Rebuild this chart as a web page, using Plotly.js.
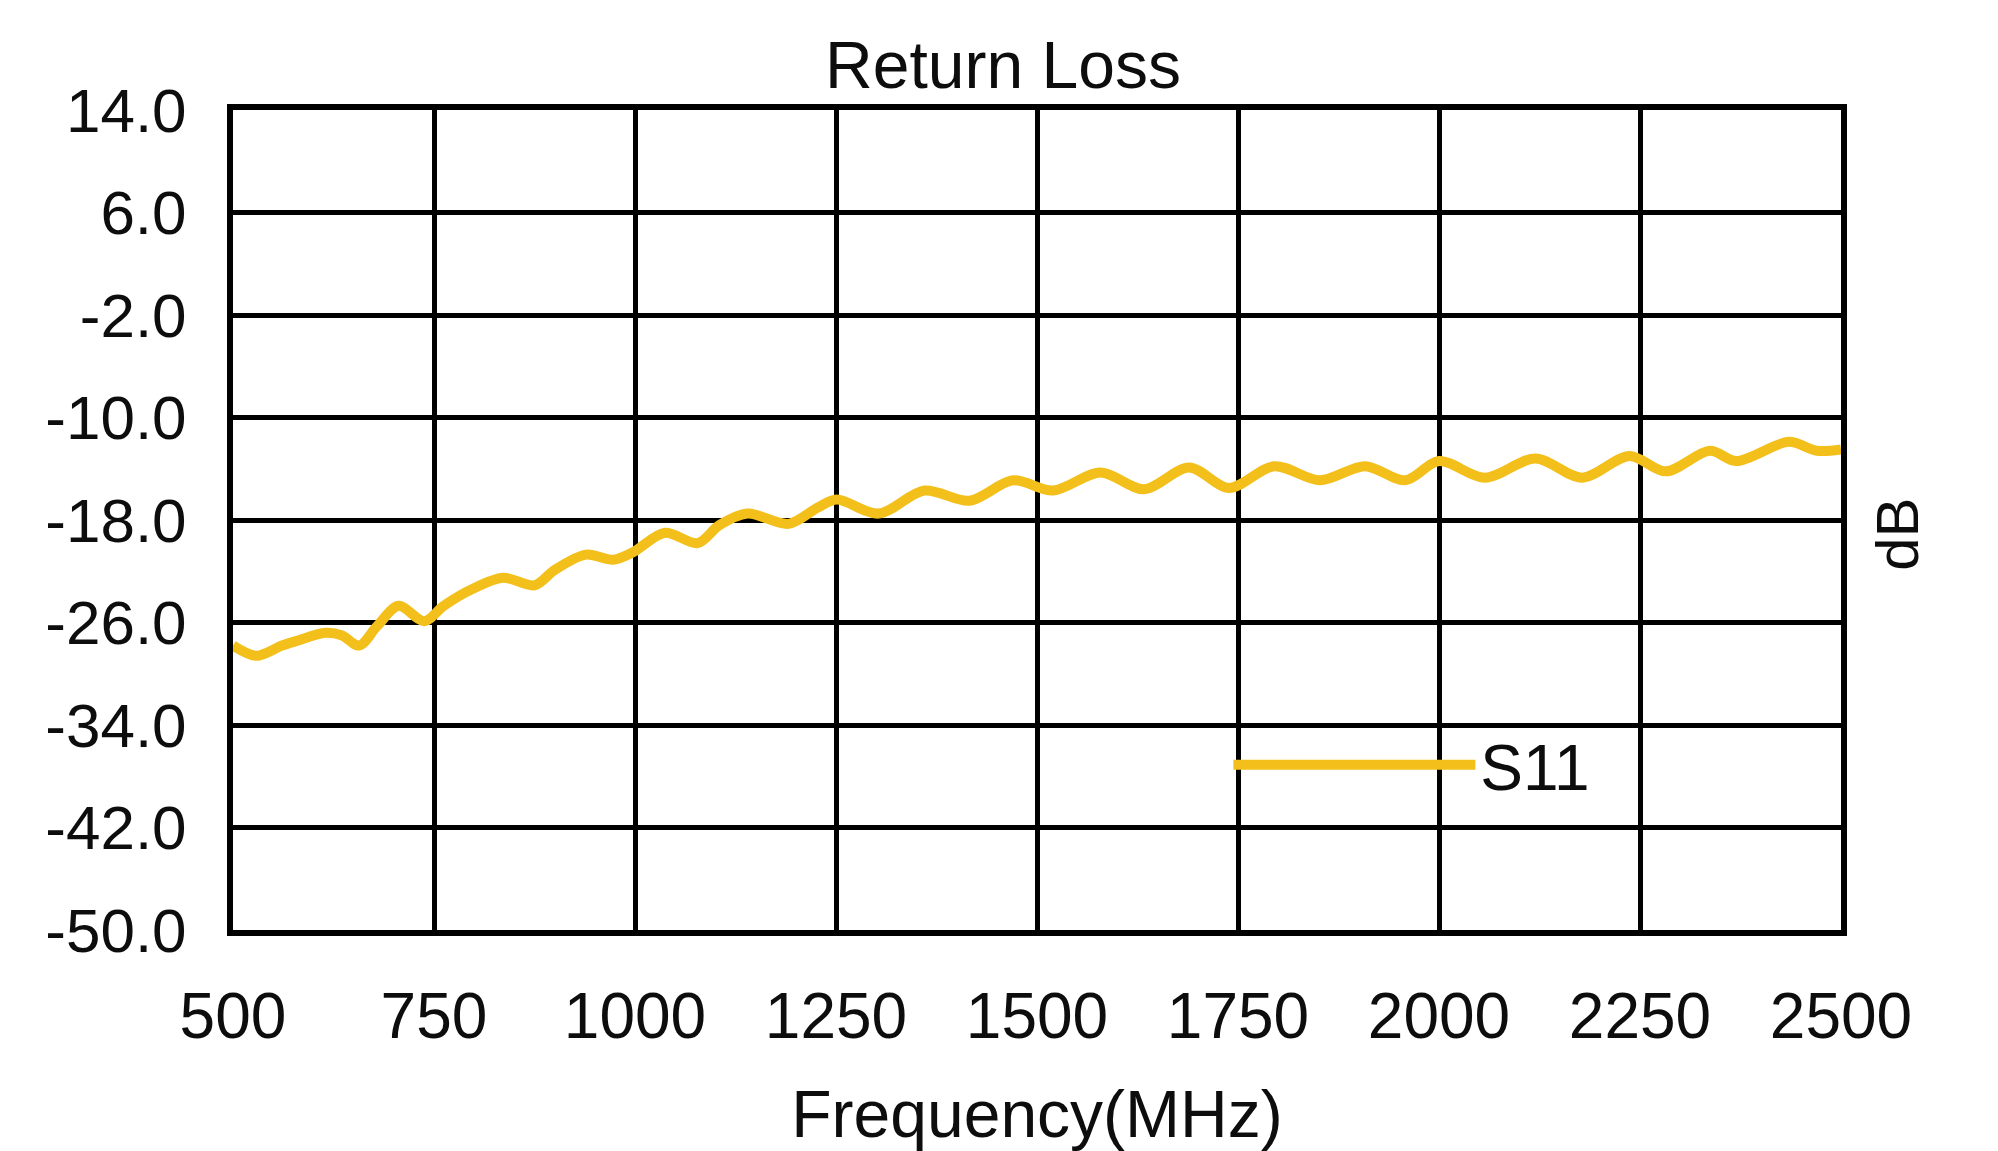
<!DOCTYPE html>
<html>
<head>
<meta charset="utf-8">
<script src="https://cdn.plot.ly/plotly-3.0.1.min.js"></script>
<style>
html,body{margin:0;padding:0;background:#fff;}
#chart{width:1998px;height:1151px;}
</style>
</head>
<body>
<div id="chart"></div>
<script>
// Frequency (MHz) and S11 return loss (dB)
const freqMHz = [500, 529, 561, 581, 615, 635, 657, 679, 706, 738, 762, 797, 836, 875, 900, 939, 973, 998,
  1037, 1078, 1105, 1140, 1191, 1228, 1251, 1303, 1360, 1416, 1470, 1520, 1579, 1633, 1689, 1739, 1795,
  1852, 1908, 1958, 2000, 2057, 2120, 2178, 2237, 2282, 2337, 2370, 2435, 2470, 2500];
const s11dB = [-27.8, -28.6, -27.8, -27.4, -26.8, -27.0, -27.8, -26.3, -24.7, -25.9, -24.7, -23.4, -22.5, -23.1,
  -21.9, -20.7, -21.1, -20.5, -19.0, -19.8, -18.4, -17.5, -18.3, -17.0, -16.4, -17.5, -15.7, -16.5, -14.9,
  -15.7, -14.3, -15.6, -13.9, -15.5, -13.8, -14.9, -13.8, -14.9, -13.4, -14.7, -13.2, -14.7, -13.0, -14.2,
  -12.6, -13.4, -11.9, -12.6, -12.5];
const seriesName = "S11";
const chartTitle = "Return Loss";
const xTitle = "Frequency(MHz)";
const yTitle = "dB";
const xTicks = [500, 750, 1000, 1250, 1500, 1750, 2000, 2250, 2500];
const yTicks = [14.0, 6.0, -2.0, -10.0, -18.0, -26.0, -34.0, -42.0, -50.0];

const FONT = "Liberation Sans, Arial, sans-serif";
const INK = "#0d0d0d";

const trace = {
  x: freqMHz,
  y: s11dB,
  type: "scatter",
  mode: "lines",
  name: seriesName,
  line: {color: "#F3BF1B", width: 10, shape: "spline", smoothing: 0.9},
  cliponaxis: true
};

const layout = {
  width: 1998,
  height: 1151,
  paper_bgcolor: "#ffffff",
  plot_bgcolor: "#ffffff",
  margin: {l: 233, r: 157, t: 110, b: 221},
  font: {family: FONT, color: INK},
  title: {
    text: chartTitle,
    font: {family: FONT, size: 66, color: INK},
    xref: "container", yref: "container",
    x: 0.502, xanchor: "center",
    y: 0.944, yanchor: "middle"
  },
  xaxis: {
    range: [500, 2500],
    tickvals: xTicks,
    ticktext: xTicks.map(String),
    showgrid: true, gridcolor: "#000000", gridwidth: 5,
    showline: true, linecolor: "#000000", linewidth: 6, mirror: true,
    zeroline: false,
    ticks: "",
    ticklabelstandoff: 25,
    tickfont: {family: FONT, size: 64, color: INK},
    title: {text: xTitle, font: {family: FONT, size: 66, color: INK}, standoff: 54},
    automargin: false
  },
  yaxis: {
    range: [-50, 14],
    tickvals: yTicks,
    ticktext: yTicks.map(v => v.toFixed(1)),
    showgrid: true, gridcolor: "#000000", gridwidth: 5,
    showline: true, linecolor: "#000000", linewidth: 6, mirror: true,
    zeroline: false,
    ticks: "",
    ticklabelstandoff: 28,
    tickfont: {family: FONT, size: 62, color: INK},
    automargin: false
  },
  showlegend: true,
  legend: {
    x: 0.619, xanchor: "left",
    y: 0.201, yanchor: "middle",
    bgcolor: "rgba(0,0,0,0)",
    borderwidth: 0,
    itemwidth: 242,
    font: {family: FONT, size: 64, color: INK}
  },
  annotations: [{
    text: yTitle,
    xref: "paper", yref: "paper",
    x: 1.0355, y: 0.482,
    xanchor: "center", yanchor: "middle",
    textangle: -90,
    showarrow: false,
    font: {family: FONT, size: 60, color: INK}
  }]
};

Plotly.newPlot("chart", [trace], layout, {displayModeBar: false, staticPlot: true});
</script>
</body>
</html>
